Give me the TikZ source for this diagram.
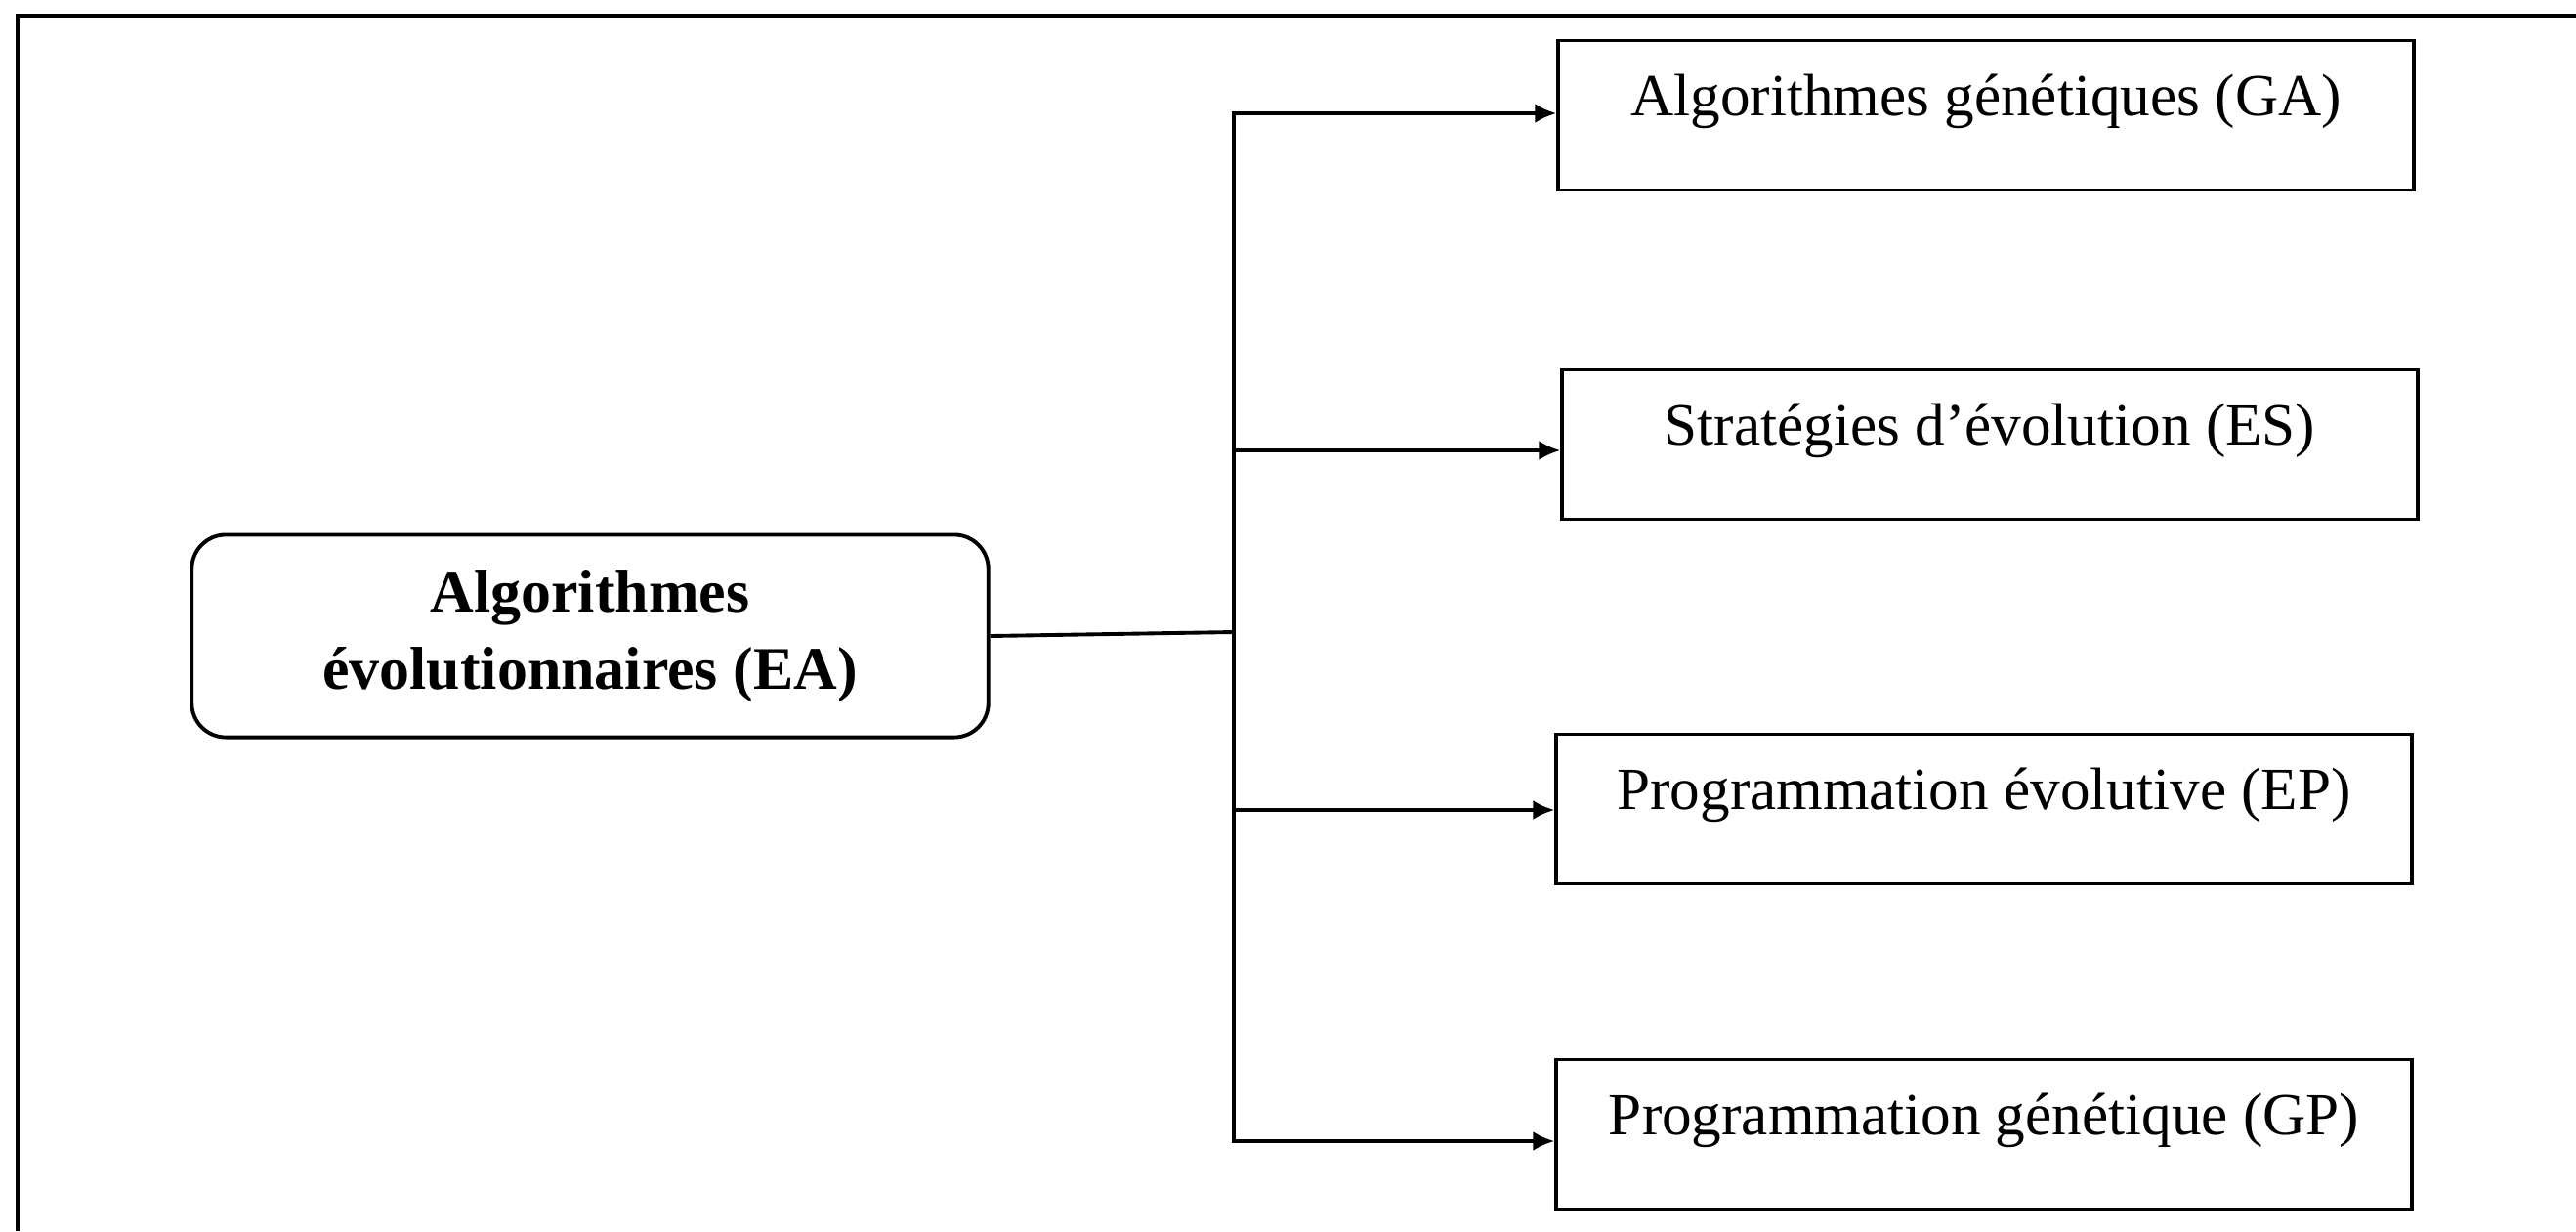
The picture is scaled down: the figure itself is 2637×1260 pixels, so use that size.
\documentclass[tikz,border=0pt]{standalone}
\usepackage{fontspec}
\setmainfont{Liberation Serif}
\usetikzlibrary{arrows.meta}
\begin{document}
\begin{tikzpicture}[x=0.01cm,y=-0.01cm,line width=1.1pt,>={Latex[length=2.2mm,width=2mm]},
 leaf/.style={draw,minimum width=8.75cm,inner sep=0pt,text height=0.765cm,text depth=0.765cm,font=\fontsize{17.4}{20}\selectfont}]
\useasboundingbox (0,0) rectangle (2637,1260);
% frame
\draw (18,1260) |- (2637,16);
\node [draw,rounded corners=0.35cm,minimum width=8.15cm,minimum height=2.07cm,align=center,font=\fontsize{17.6}{22.5}\selectfont\bfseries] (ea) at (604,651) {Algorithmes\\évolutionnaires (EA)};
\node [leaf] (ga) at (2033,118) {Algorithmes génétiques (GA)};
\node [leaf] (es) at (2037,455) {Stratégies d’évolution (ES)};
\node [leaf] (ep) at (2031,828) {Programmation évolutive (EP)};
\node [leaf] (gp) at (2031,1161) {Programmation génétique (GP)};
% spine
\coordinate (hub) at (1263,647);
\coordinate (jga) at (1263,116);
\coordinate (jes) at (1263,461);
\coordinate (jep) at (1263,829);
\coordinate (jgp) at (1263,1168);
\draw (ea.east) -- (hub);
\draw [<->] (jga -| ga.west) -- (jga) -- (jgp) -- (jgp -| gp.west);
\draw [->] (jes) -- (jes -| es.west);
\draw [->] (jep) -- (jep -| ep.west);
\end{tikzpicture}
\end{document}
